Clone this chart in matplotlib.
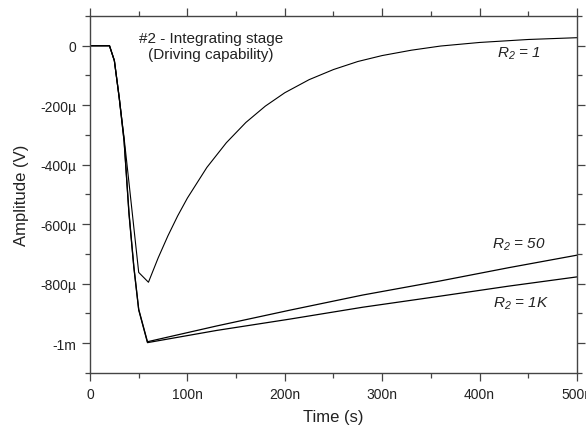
import matplotlib.pyplot as plt
from matplotlib.ticker import MultipleLocator, FuncFormatter

plt.rcParams['font.family'] = ['Liberation Sans', 'DejaVu Sans']
plt.rcParams['mathtext.fontset'] = 'custom'
plt.rcParams['mathtext.it'] = 'Liberation Sans:italic'
plt.rcParams['mathtext.rm'] = 'Liberation Sans:italic'

# time in ns, amplitude in uV
t_r1 = [0, 20, 25, 30, 35, 40, 50, 60, 70, 80, 90, 100, 120, 140, 160, 180,
        200, 225, 250, 275, 300, 330, 360, 400, 450, 500]
v_r1 = [0, 0, -50, -175, -310, -460, -762, -795, -713, -639, -572, -512,
        -409, -326, -258, -203, -158, -114, -80, -53, -33, -15, -1, 11, 21, 27]

t_r50 = [0, 20, 25, 30, 35, 40, 45, 50, 59, 130, 205, 280, 359, 430, 500]
v_r50 = [0, 0, -50, -175, -320, -560, -742, -886, -995, -942, -889, -838,
         -791, -746, -704]

t_r1k = [0, 20, 25, 30, 35, 40, 45, 50, 59, 130, 205, 280, 359, 430, 500]
v_r1k = [0, 0, -50, -175, -320, -565, -745, -888, -998, -957, -919, -879,
         -842, -808, -777]

labels = ['$R_{2}$ = 1', '$R_{2}$ = 50', '$R_{2}$ = 1K']


def eng(v, pos=None, unit=''):
    if v == 0:
        return '0'
    if abs(v) >= 1000:
        return f'{v / 1000:g}m'
    return f'{v:g}' + unit


fig = plt.figure(figsize=(5.86, 4.31), dpi=100)
ax = fig.add_axes([0.1536, 0.1323, 0.831, 0.8283])

ax.plot(t_r1, v_r1, color='black', lw=0.8)
ax.plot(t_r50, v_r50, color='black', lw=0.9)
ax.plot(t_r1k, v_r1k, color='black', lw=0.9)

ax.set_xlim(0, 500)
ax.set_ylim(-1100, 100)

ax.xaxis.set_major_locator(MultipleLocator(100))
ax.xaxis.set_minor_locator(MultipleLocator(50))
ax.yaxis.set_major_locator(MultipleLocator(200))
ax.yaxis.set_minor_locator(MultipleLocator(100))
ax.xaxis.set_major_formatter(FuncFormatter(lambda v, p: eng(v, p, 'n')))
ax.yaxis.set_major_formatter(FuncFormatter(lambda v, p: eng(v, p, 'µ')))

ax.tick_params(which='both', direction='out', top=True, right=True,
               colors='#444444', labelcolor='#222222', labelsize=10, width=0.9)
ax.tick_params(which='major', length=6, pad=4)
ax.tick_params(which='minor', length=3.5)
for s in ax.spines.values():
    s.set_color('#444444')
    s.set_linewidth(1.0)

ax.set_xlabel('Time (s)', fontsize=12, labelpad=6, color='#222222')
ax.set_ylabel('Amplitude (V)', fontsize=12, labelpad=8, color='#222222')

ax.text(124, 0, '#2 - Integrating stage\n(Driving capability)',
        ha='center', va='center', fontsize=11, linespacing=1.2, color='#222222')

for x, y, s in [(440, -25, labels[0]), (440, -665, labels[1]), (442, -865, labels[2])]:
    ax.text(x, y, s, ha='center', va='center', fontsize=11,
            style='italic', color='#222222')

fig.savefig('out.png', dpi=100)
